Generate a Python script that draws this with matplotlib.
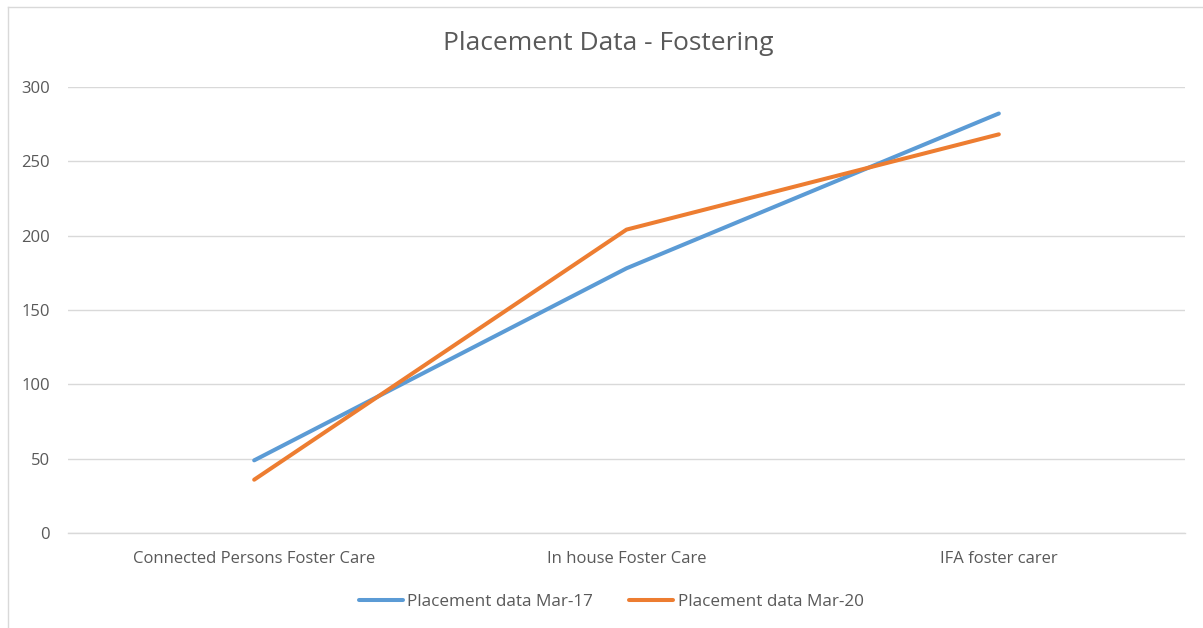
import matplotlib
matplotlib.use("Agg")
import matplotlib.pyplot as plt
from matplotlib.lines import Line2D

categories = ["Connected Persons Foster Care", "In house Foster Care", "IFA foster carer"]
series_names = ["Placement data Mar-17", "Placement data Mar-20"]
mar17 = [49, 178, 282]
mar20 = [36, 204, 268]
yticks = [0, 50, 100, 150, 200, 250, 300]

plt.rcParams['font.family'] = ['Open Sans', 'DejaVu Sans']
W, H = 1203, 628
fig = plt.figure(figsize=(W / 100, H / 100), dpi=100)
ax = fig.add_axes([68 / W, 1 - 533.3 / H, (1185 - 68) / W, (533.3 - 86.7) / H])

x = list(range(len(categories)))
ax.plot(x, mar17, color="#5B9BD5", lw=2.9, solid_capstyle="round", label=series_names[0], zorder=3)
ax.plot(x, mar20, color="#ED7D31", lw=2.9, solid_capstyle="round", label=series_names[1], zorder=3)

ax.set_xlim(-0.5, len(categories) - 0.5)
ax.set_ylim(0, 300)
ax.set_yticks(yticks)
ax.set_yticklabels([str(v) for v in yticks])
ax.set_xticks(x)
ax.set_xticklabels(categories)
ax.tick_params(axis="both", length=0, labelsize=12, labelcolor="#595959")
ax.tick_params(axis="y", pad=13)
ax.tick_params(axis="x", pad=13)
ax.grid(axis="y", color="#D9D9D9", lw=1.0)
ax.set_axisbelow(True)
for s in ["top", "right", "left"]:
    ax.spines[s].set_visible(False)
ax.spines["bottom"].set_color("#D9D9D9")
ax.spines["bottom"].set_linewidth(1.0)

fig.text(608 / W, 1 - 43 / H, "Placement Data - Fostering", ha="center", va="center",
         fontsize=19, color="#595959")

leg = fig.legend(loc="center", bbox_to_anchor=(611 / W, 1 - 602 / H), ncol=2, frameon=False,
                 fontsize=12.3, handlelength=2.6, handletextpad=0.25, columnspacing=2.1,
                 labelcolor="#595959")

# chart border (top and left)
fig.add_artist(Line2D([8 / W, 1], [1 - 7 / H, 1 - 7 / H], transform=fig.transFigure, color="#D9D9D9", lw=1))
fig.add_artist(Line2D([8 / W, 8 / W], [0, 1 - 7 / H], transform=fig.transFigure, color="#D9D9D9", lw=1))

fig.savefig("out.png", dpi=100, facecolor="white")
